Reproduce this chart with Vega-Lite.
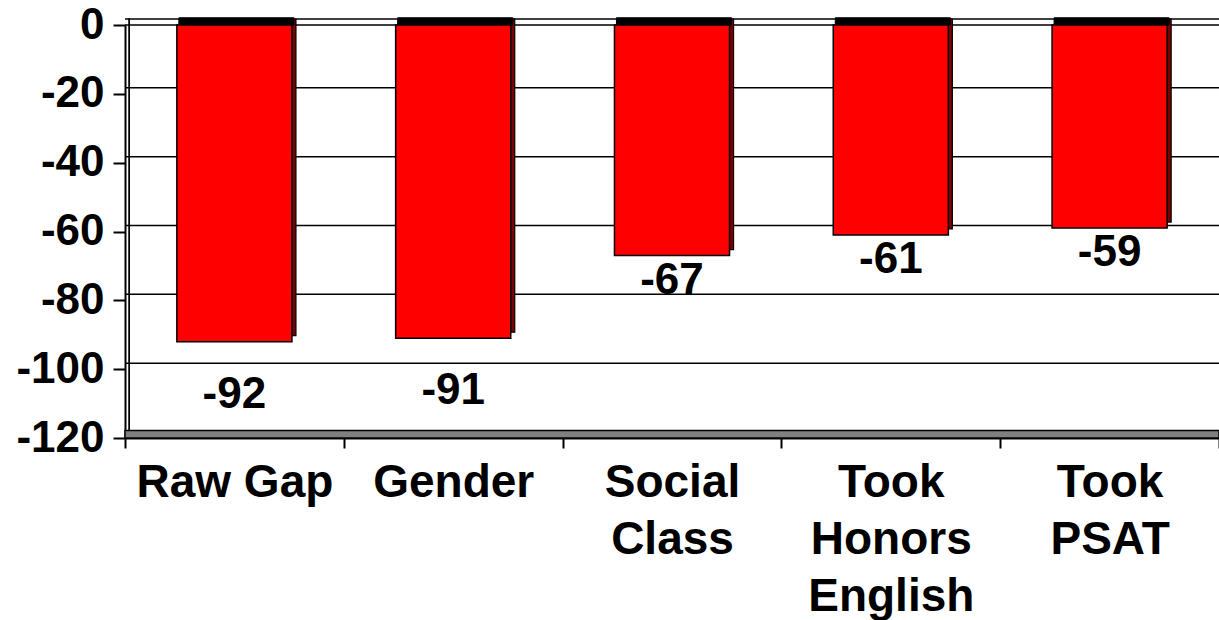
{
  "$schema": "https://vega.github.io/schema/vega-lite/v6.json",
  "width": 1094,
  "height": 413,
  "autosize": "none",
  "padding": {"left": 125, "top": 25, "right": 0, "bottom": 182},
  "background": "white",
  "config": {
    "view": {"stroke": null},
    "font": "Liberation Sans",
    "axis": {"grid": false, "domainColor": "black", "tickColor": "black", "labelColor": "black", "labelFontWeight": "bold", "labelFont": "Liberation Sans", "labelLimit": 400},
    "axisY": {"domainWidth": 2, "tickWidth": 2, "tickSize": 12, "labelFontSize": 44, "labelPadding": 9},
    "axisX": {"domainWidth": 2, "tickWidth": 2, "tickSize": 10, "labelFontSize": 46, "labelPadding": 12, "labelLineHeight": 57, "labelAngle": 0, "tickBand": "extent", "labelBaseline": "top"}
  },
  "datasets": {
    "bars": [
      {"cat": "Raw Gap", "value": -92},
      {"cat": "Gender", "value": -91},
      {"cat": "Social Class", "value": -67},
      {"cat": "Took Honors English", "value": -61},
      {"cat": "Took PSAT", "value": -59}
    ],
    "grid": [
      {"g": 0}, {"g": -20}, {"g": -40}, {"g": -60}, {"g": -80}, {"g": -100}
    ]
  },
  "layer": [
    {
      "data": {"name": "grid"},
      "mark": {"type": "rule", "color": "black", "strokeWidth": 1.5, "xOffset": 4, "yOffset": -6},
      "encoding": {"y": {"field": "g", "type": "quantitative", "title": null, "scale": {"domain": [-120, 0], "nice": false}}}
    },
    {
      "data": {"name": "grid"},
      "transform": [{"filter": "datum.g == 0"}],
      "mark": {"type": "rule", "color": "black", "strokeWidth": 1.5},
      "encoding": {"y": {"field": "g", "type": "quantitative", "title": null}}
    },
    {
      "data": {"name": "grid"},
      "transform": [{"filter": "datum.g == 0"}],
      "mark": {"type": "rect", "fill": "transparent", "stroke": "black", "strokeWidth": 1.5, "xOffset": 4, "yOffset": -6},
      "encoding": {"y": {"datum": 0}, "y2": {"datum": -120}, "x": {"datum": 0, "type": "quantitative", "scale": null}}
    },
    {
      "data": {"name": "grid"},
      "transform": [{"filter": "datum.g == 0"}],
      "mark": {"type": "rect", "fill": "#808080", "stroke": "black", "strokeWidth": 1.5},
      "encoding": {"y": {"datum": -120}, "y2": {"datum": -117.8}}
    },
    {
      "data": {"name": "bars"},
      "mark": {"type": "bar", "fill": "#7a0000", "stroke": "black", "strokeWidth": 1.2, "xOffset": 4, "yOffset": -6, "width": {"band": 0.526}},
      "encoding": {
        "x": {"field": "cat", "type": "nominal", "sort": null, "title": null,
              "scale": {"paddingInner": 0, "paddingOuter": 0},
              "axis": {"labelExpr": "datum.label == 'Raw Gap' ? datum.label : split(datum.label, ' ')"}},
        "y": {"field": "value", "type": "quantitative", "title": null,
              "axis": {"values": [0, -20, -40, -60, -80, -100, -120], "labelExpr": "'' + datum.value"}}
      }
    },
    {
      "data": {"name": "bars"},
      "mark": {"type": "bar", "fill": "black", "stroke": "black", "strokeWidth": 1, "xOffset": 2, "width": {"band": 0.526}},
      "encoding": {
        "x": {"field": "cat", "type": "nominal", "sort": null, "title": null},
        "y": {"datum": 0},
        "y2": {"datum": 2.1}
      }
    },
    {
      "data": {"name": "bars"},
      "mark": {"type": "bar", "fill": "#ff0000", "stroke": "black", "strokeWidth": 1.5, "width": {"band": 0.526}},
      "encoding": {
        "x": {"field": "cat", "type": "nominal", "sort": null, "title": null},
        "y": {"field": "value", "type": "quantitative", "title": null}
      }
    },
    {
      "data": {"name": "bars"},
      "transform": [{"filter": "datum.value < -80"}],
      "mark": {"type": "text", "fontSize": 44, "fontWeight": "bold", "color": "black", "baseline": "alphabetic", "dy": 66, "font": "Liberation Sans"},
      "encoding": {
        "x": {"field": "cat", "type": "nominal", "sort": null, "title": null},
        "y": {"field": "value", "type": "quantitative", "title": null},
        "text": {"field": "value", "type": "nominal"}
      }
    },
    {
      "data": {"name": "bars"},
      "transform": [{"filter": "datum.value >= -80"}],
      "mark": {"type": "text", "fontSize": 44, "fontWeight": "bold", "color": "black", "baseline": "alphabetic", "dy": 38, "font": "Liberation Sans"},
      "encoding": {
        "x": {"field": "cat", "type": "nominal", "sort": null, "title": null},
        "y": {"field": "value", "type": "quantitative", "title": null},
        "text": {"field": "value", "type": "nominal"}
      }
    }
  ]
}
